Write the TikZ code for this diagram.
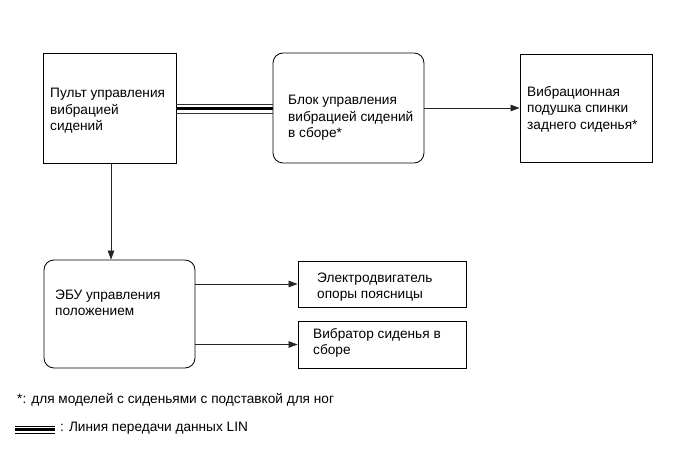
\documentclass[tikz,border=0pt]{standalone}
\usepackage{fontspec}
\setmainfont{Liberation Sans}
\usetikzlibrary{arrows.meta}
\begin{document}
\begin{tikzpicture}[x=1bp,y=-1bp,
  box/.style={draw=black,line width=0.8bp,inner sep=0,minimum width=#1},
  rbox/.style={box=#1,rounded corners=10bp},
  lbl/.style={anchor=west,align=left,inner sep=0,font=\fontsize{13.7}{16.5}\selectfont},
  arr/.style={draw=black!85,line width=0.7bp,-{Triangle[length=9bp,width=6.5bp]}},
  thinlin/.style={draw=black!80,line width=0.9bp},
  thicklin/.style={draw=black,line width=2.6bp}]
\useasboundingbox (0,0) rectangle (691,465);
% boxes
\node[box=133bp,minimum height=110bp] (b1) at (109.5,108) {};
\node[rbox=151bp,minimum height=110bp] (b2) at (348.5,108) {};
\node[box=132bp,minimum height=108bp] (b3) at (586,108) {};
\node[rbox=151bp,minimum height=108bp] (b4) at (119.5,314) {};
\node[box=168bp,minimum height=46bp] (b5) at (382,284) {};
\node[box=168bp,minimum height=47bp] (b6) at (382,344.5) {};
% texts
\node[lbl] (t1) at (50,111) {Пульт управления\\вибрацией\\сидений};
\node[lbl] (t2) at (288,118) {Блок управления\\вибрацией сидений\\в сборе*};
\node[lbl] (t3) at (527,109) {Вибрационная\\подушка спинки\\заднего сиденья*};
\node[lbl] (t4) at (55,303) {ЭБУ управления\\положением};
\node[lbl] (t5) at (317,287) {Электродвигатель\\опоры поясницы};
\node[lbl] (t6) at (313,343) {Вибратор сиденья в\\сборе};
% LIN line
\draw[thinlin] ([yshift=4bp]b1.east) -- ([yshift=4bp]b2.west);
\draw[thicklin] ([yshift=-0.5bp]b1.east) -- ([yshift=-0.5bp]b2.west);
\draw[thinlin] ([yshift=-5bp]b1.east) -- ([yshift=-5bp]b2.west);
% arrows
\draw[arr] (b2.east) -- (b3.west);
\draw[arr] ([xshift=1.5bp]b1.south) -- ([xshift=1.5bp]b1.south |- b4.north);
\draw[arr] (b4.east |- b5.west) -- (b5.west);
\draw[arr] (b4.east |- b6.west) -- (b6.west);
% legend
\node[lbl] (n1) at (17,400) {*: для моделей с сиденьями с подставкой для ног};
\coordinate (l1) at (15,429.5);
\coordinate (l2) at (55,429.5);
\draw[line width=0.9bp] ([yshift=3.5bp]l1) -- ([yshift=3.5bp]l2);
\draw[line width=2.2bp] (l1) -- (l2);
\draw[line width=0.9bp] ([yshift=-3.5bp]l1) -- ([yshift=-3.5bp]l2);
\node[lbl] (n2) at (60,428) {: Линия передачи данных LIN};
\end{tikzpicture}
\end{document}
